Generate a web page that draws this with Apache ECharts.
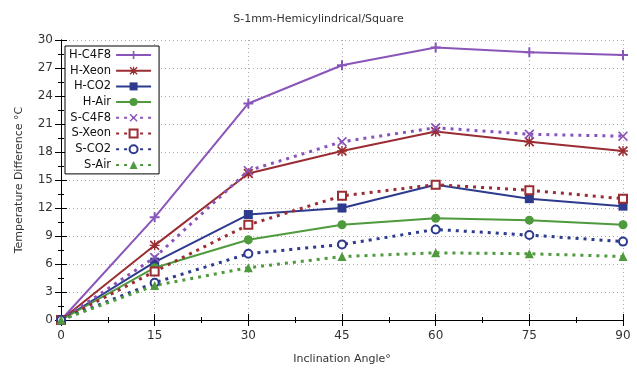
<!DOCTYPE html>
<html>
<head>
<meta charset="utf-8">
<script src="https://cdn.jsdelivr.net/npm/echarts@6/dist/echarts.min.js"></script>
<style>
  html, body { margin: 0; padding: 0; background: #fff; }
  #chart { width: 637px; height: 370px; }
</style>
</head>
<body>
<div id="chart"></div>
<script>
// data
let angles = [0, 15, 30, 45, 60, 75, 90];
let hC4F8 = [0, 11.0, 23.2, 27.3, 29.2, 28.7, 28.4];
let hXeon = [0, 8.0, 15.7, 18.1, 20.2, 19.1, 18.1];
let hCO2 = [0, 6.2, 11.3, 12.0, 14.5, 13.0, 12.2];
let hAir = [0, 5.6, 8.6, 10.2, 10.9, 10.7, 10.2];
let sC4F8 = [0, 6.7, 16.0, 19.1, 20.6, 19.9, 19.7];
let sXeon = [0, 5.2, 10.2, 13.3, 14.5, 13.9, 13.0];
let sCO2 = [0, 4.0, 7.1, 8.1, 9.7, 9.1, 8.4];
let sAir = [0, 3.7, 5.6, 6.8, 7.2, 7.1, 6.8];

let font = 'DejaVu Sans';

// marker shapes
let plusPath = 'path://M4,0H6V4H10V6H6V10H4V6H0V4H4Z';
let crossPath = 'path://M0,1.2L1.2,0L5,3.8L8.8,0L10,1.2L6.2,5L10,8.8L8.8,10L5,6.2L1.2,10L0,8.8L3.8,5Z';
let starPath = 'path://M0,1.2L1.2,0L5,3.8L8.8,0L10,1.2L6.2,5L10,8.8L8.8,10L5,6.2L1.2,10L0,8.8L3.8,5Z M4.3,0H5.7V4.3H10V5.7H5.7V10H4.3V5.7H0V4.3H4.3Z';

function pairs(vals) {
	return angles.map(function(a, i) { return [a, vals[i]]; });
}

function makeSeries(name, vals, color, symbol, size, dotted) {
	return {
		name: name,
		type: 'line',
		data: pairs(vals),
		color: color,
		symbol: symbol,
		symbolSize: size,
		lineStyle: dotted ? { color: color, width: 3, type: [3, 5] } : { color: color, width: 2 },
		itemStyle: { color: color, borderColor: color, borderWidth: symbol.indexOf('empty') === 0 ? 2 : 0 },
		emphasis: { disabled: true },
		animation: false
	};
}

let purple = '#8a55b9';
let red = '#9a2d33';
let blue = '#2d3a8d';
let green = '#4f9a3d';

let myChart = echarts.init(document.getElementById('chart'));

let option = {
	backgroundColor: '#fff',
	title: {
		text: 'S-1mm-Hemicylindrical/Square',
		left: 'center',
		top: 9,
		textStyle: { fontFamily: font, fontSize: 11, fontWeight: 'normal', color: '#333' }
	},
	legend: {
		orient: 'vertical',
		left: 65,
		top: 46,
		align: 'right',
		padding: [3, 7, 3, 4],
		itemGap: 3.7,
		itemWidth: 35,
		itemHeight: 10,
		backgroundColor: '#fff',
		borderColor: '#000',
		borderWidth: 1,
		borderRadius: 0,
		textStyle: { fontFamily: font, fontSize: 11.5, color: '#111', width: 49, align: 'right' }
	},
	grid: { left: 61, right: 14, top: 40, bottom: 50 },
	xAxis: [{
		type: 'value',
		min: 0,
		max: 90,
		interval: 15,
		name: 'Inclination Angle°',
		nameLocation: 'middle',
		nameGap: 34,
		nameTextStyle: { fontFamily: font, fontSize: 11, color: '#333' },
		axisLine: { lineStyle: { color: '#000', width: 1 } },
		axisTick: { inside: true, length: 6, lineStyle: { color: '#000' } },
		minorTick: { show: true, splitNumber: 2, length: 3, lineStyle: { color: '#000' } },
		axisLabel: { fontFamily: font, fontSize: 12, color: '#333', margin: 10 },
		splitLine: { show: true, lineStyle: { color: '#aaa', type: [1, 3] } }
	}, {
		type: 'value',
		position: 'top',
		min: 0,
		max: 90,
		interval: 15,
		axisLine: { lineStyle: { color: '#000', width: 1 } },
		axisTick: { inside: true, length: 6, lineStyle: { color: '#000' } },
		minorTick: { show: true, splitNumber: 2, length: 3, lineStyle: { color: '#000' } },
		axisLabel: { show: false },
		splitLine: { show: false }
	}],
	yAxis: [{
		type: 'value',
		min: 0,
		max: 30,
		interval: 3,
		name: 'Temperature Difference °C',
		nameLocation: 'middle',
		nameGap: 36,
		nameTextStyle: { fontFamily: font, fontSize: 11, color: '#333' },
		axisLine: { show: true, lineStyle: { color: '#000', width: 1 } },
		axisTick: { show: true, inside: true, length: 6, lineStyle: { color: '#000' } },
		minorTick: { show: true, splitNumber: 2, length: 3, lineStyle: { color: '#000' } },
		axisLabel: { fontFamily: font, fontSize: 12, color: '#333', margin: 8 },
		splitLine: { show: true, lineStyle: { color: '#aaa', type: [1, 3] } }
	}, {
		type: 'value',
		position: 'right',
		min: 0,
		max: 30,
		interval: 3,
		axisLine: { show: true, lineStyle: { color: '#000', width: 1 } },
		axisTick: { show: true, inside: true, length: 6, lineStyle: { color: '#000' } },
		minorTick: { show: true, splitNumber: 2, length: 3, lineStyle: { color: '#000' } },
		axisLabel: { show: false },
		splitLine: { show: false }
	}],
	series: [
		makeSeries('H-C4F8', hC4F8, purple, plusPath, 10, false),
		makeSeries('H-Xeon', hXeon, red, starPath, 10, false),
		makeSeries('H-CO2', hCO2, blue, 'rect', 9, false),
		makeSeries('H-Air', hAir, green, 'circle', 9, false),
		makeSeries('S-C4F8', sC4F8, purple, crossPath, 10, true),
		makeSeries('S-Xeon', sXeon, red, 'emptyRect', 8, true),
		makeSeries('S-CO2', sCO2, blue, 'emptyCircle', 8, true),
		makeSeries('S-Air', sAir, green, 'triangle', 9, true)
	]
};

myChart.setOption(option);
</script>
</body>
</html>
